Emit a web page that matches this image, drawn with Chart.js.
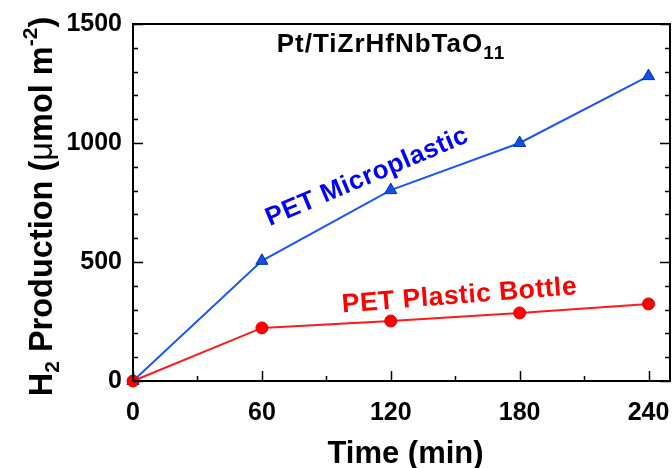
<!DOCTYPE html>
<html>
<head>
<meta charset="utf-8">
<script src="https://cdn.jsdelivr.net/npm/chart.js@4.4.0/dist/chart.umd.min.js"></script>
<style>
  html, body { margin: 0; padding: 0; background: #fff; }
  #wrap { width: 672px; height: 468px; }
</style>
</head>
<body>
<div id="wrap"><canvas id="chart" width="672" height="468"></canvas></div>
<script>
// data
const timeMin = [0, 60, 120, 180, 240];
const microplastic = [0, 505, 802, 1000, 1281];
const plasticBottle = [0, 223, 252, 286, 324];
const xTickValues = [0, 60, 120, 180, 240];
const yTickValues = [0, 500, 1000, 1500];

const FONT = "'Liberation Sans', Arial, sans-serif";

function toPoints(xs, ys) {
  return xs.map((x, i) => ({ x: x, y: ys[i] }));
}

// draws frame, inward ticks, titles and the in-plot labels
const decorations = {
  id: 'decorations',
  afterDraw(chart) {
    const ctx = chart.ctx;
    const xs = chart.scales.x;
    const ys = chart.scales.y;
    const a = chart.chartArea;

    ctx.save();
    ctx.strokeStyle = '#000';
    ctx.lineWidth = 2;
    ctx.strokeRect(a.left, a.top, a.right - a.left, a.bottom - a.top);

    ctx.lineWidth = 1.5;
    ctx.beginPath();
    // y ticks every 100, major every 500
    for (let v = 0; v <= 1500; v += 100) {
      const py = Math.round(ys.getPixelForValue(v)) + 0.5;
      const len = v % 500 === 0 ? 10 : 5;
      ctx.moveTo(a.left, py); ctx.lineTo(a.left + len, py);
      ctx.moveTo(a.right, py); ctx.lineTo(a.right - len, py);
    }
    // x ticks every 30, major every 60
    for (let v = 0; v <= 240; v += 30) {
      const px = Math.round(xs.getPixelForValue(v)) + 0.5;
      const len = v % 60 === 0 ? 10 : 5;
      ctx.moveTo(px, a.bottom); ctx.lineTo(px, a.bottom - len);
    }
    ctx.stroke();

    // x axis title
    ctx.fillStyle = '#000';
    ctx.font = 'bold 31px ' + FONT;
    ctx.textAlign = 'center';
    ctx.textBaseline = 'alphabetic';
    ctx.fillText('Time (min)', (a.left + a.right) / 2 + 4, 463);

    // y axis title with sub/superscripts
    const big = 'bold 32.5px ' + FONT;
    const small = 'bold 21px ' + FONT;
    const parts = [
      { t: 'H', f: big, dy: 0 },
      { t: '2', f: small, dy: 7 },
      { t: ' Production (', f: big, dy: 0 },
      { t: '\u03bc', f: '32.5px ' + FONT, dy: 0 },
      { t: 'mol m', f: big, dy: 0 },
      { t: '-2', f: small, dy: -15 },
      { t: ')', f: big, dy: 0 }
    ];
    let total = 0;
    parts.forEach(p => { ctx.font = p.f; p.w = ctx.measureText(p.t).width; total += p.w; });
    ctx.save();
    ctx.translate(52, 206.5);
    ctx.rotate(-Math.PI / 2);
    ctx.textAlign = 'left';
    let cx = -total / 2;
    parts.forEach(p => { ctx.font = p.f; ctx.fillText(p.t, cx, p.dy); cx += p.w; });
    ctx.restore();

    // sample title
    ctx.letterSpacing = '1px';
    const tParts = [
      { t: 'Pt/TiZrHfNbTaO', f: 'bold 26px ' + FONT, dy: 0 },
      { t: '11', f: 'bold 19px ' + FONT, dy: 7 }
    ];
    let tw = 0;
    tParts.forEach(p => { ctx.font = p.f; p.w = ctx.measureText(p.t).width; tw += p.w; });
    ctx.textAlign = 'left';
    let tx = 391 - tw / 2;
    tParts.forEach(p => { ctx.font = p.f; ctx.fillText(p.t, tx, 52 + p.dy); tx += p.w; });

    // series labels
    ctx.letterSpacing = '0.5px';
    ctx.textAlign = 'center';
    ctx.textBaseline = 'middle';
    ctx.save();
    ctx.translate(xs.getPixelForValue(109), ys.getPixelForValue(857));
    ctx.rotate(-23 * Math.PI / 180);
    ctx.fillStyle = '#0000ff';
    ctx.font = 'bold 26px ' + FONT;
    ctx.fillText('PET Microplastic', 0, 0);
    ctx.restore();

    ctx.save();
    ctx.translate(xs.getPixelForValue(152), ys.getPixelForValue(357));
    ctx.rotate(-4.5 * Math.PI / 180);
    ctx.fillStyle = '#ff0000';
    ctx.font = 'bold 26.5px ' + FONT;
    ctx.fillText('PET Plastic Bottle', 0, 0);
    ctx.restore();

    ctx.restore();
  }
};

new Chart(document.getElementById('chart'), {
  type: 'line',
  data: {
    datasets: [
      {
        label: 'PET Plastic Bottle',
        data: toPoints(timeMin, plasticBottle),
        borderColor: '#ff1a1a',
        backgroundColor: '#ff0000',
        pointBorderColor: '#e00000',
        borderWidth: 2,
        pointStyle: 'circle',
        pointRadius: 6,
        pointBorderWidth: 1,
        tension: 0,
        clip: false
      },
      {
        label: 'PET Microplastic',
        data: toPoints(timeMin, microplastic),
        borderColor: '#1a55ff',
        backgroundColor: '#1450e6',
        pointBorderColor: '#0030b0',
        borderWidth: 2,
        pointStyle: 'triangle',
        pointRadius: 7,
        pointBorderWidth: 1,
        tension: 0,
        clip: false
      }
    ]
  },
  options: {
    responsive: false,
    animation: false,
    layout: { autoPadding: false, padding: { left: 0, right: 2, top: 24, bottom: 0 } },
    plugins: {
      legend: { display: false },
      tooltip: { enabled: false }
    },
    scales: {
      x: {
        type: 'linear',
        min: 0,
        max: 250,
        afterBuildTicks(scale) { scale.ticks = xTickValues.map(v => ({ value: v })); },
        afterFit(scale) {
          scale.height = 87;
          scale.paddingLeft = 0;
          scale.paddingRight = 0;
        },
        grid: { display: false, drawTicks: false },
        border: { display: false },
        ticks: {
          color: '#000',
          padding: 17,
          maxRotation: 0,
          callback: v => String(v),
          font: { family: FONT, size: 25, weight: 'bold' }
        }
      },
      y: {
        min: 0,
        max: 1500,
        afterBuildTicks(scale) { scale.ticks = yTickValues.map(v => ({ value: v })); },
        afterFit(scale) {
          scale.width = 133;
          scale.paddingTop = 0;
          scale.paddingBottom = 0;
        },
        grid: { display: false, drawTicks: false },
        border: { display: false },
        ticks: {
          color: '#000',
          padding: 11,
          callback: v => String(v),
          font: { family: FONT, size: 25, weight: 'bold' }
        }
      }
    }
  },
  plugins: [decorations]
});
</script>
</body>
</html>
